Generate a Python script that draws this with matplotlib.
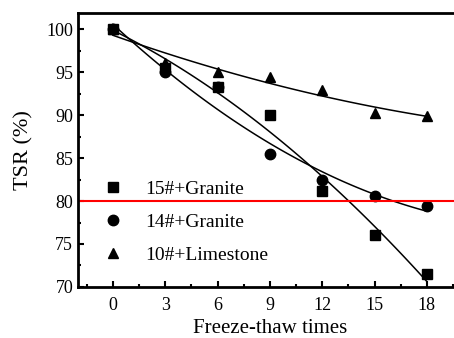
import numpy as np
import matplotlib
matplotlib.use("Agg")
from matplotlib import pyplot as plt
from matplotlib.ticker import MultipleLocator

plt.rcParams['font.family'] = ['Liberation Serif', 'DejaVu Serif']

cycles = [0, 3, 6, 9, 12, 15, 18]
tsr_15g = [100, 95.5, 93.3, 90.0, 81.2, 76.1, 71.5]
tsr_14g = [100, 95.0, 93.3, 85.5, 82.4, 80.6, 79.4]
tsr_10l = [100, 96.1, 95.0, 94.4, 92.9, 90.3, 89.9]
labels = ['15#+Granite', '14#+Granite', '10#+Limestone']
markers = ['s', 'o', '^']
limit = 80

fig = plt.figure(figsize=(4.54, 3.38), dpi=100)
ax = fig.add_axes([0.172, 0.151, 0.845, 0.811])

xs = np.linspace(0, 18, 100)
for y, m, lab in zip([tsr_15g, tsr_14g, tsr_10l], markers, labels):
    ax.plot(cycles, y, m, color='black', ms=7.5 if m != 's' else 6.5,
            linestyle='none', label=lab)
    c = np.polyfit(cycles, y, 2)
    ax.plot(xs, np.polyval(c, xs), color='black', lw=1.1)

ax.axhline(limit, color='red', lw=1.5)

ax.set_xlim(-2, 20)
ax.set_ylim(70, 101.9)
ax.xaxis.set_major_locator(MultipleLocator(3))
ax.xaxis.set_minor_locator(MultipleLocator(1.5))
ax.yaxis.set_major_locator(MultipleLocator(5))
ax.yaxis.set_minor_locator(MultipleLocator(2.5))
ax.tick_params(which='both', direction='in', labelsize=13, width=1.5)
ax.tick_params(which='major', length=4)
ax.tick_params(which='minor', length=2.5)
ax.tick_params(axis='x', pad=7)
for s in ax.spines.values():
    s.set_linewidth(2)
ax.spines['right'].set_visible(False)

ax.set_xlabel('Freeze-thaw times', fontsize=15, labelpad=4)
ax.set_ylabel('TSR (%)', fontsize=16, labelpad=9)

ax.legend(loc='lower left', bbox_to_anchor=(0.007, 0.02), frameon=False,
          fontsize=14, handletextpad=0.9, labelspacing=0.8, handlelength=1.5)

fig.savefig('out.png', dpi=100)
